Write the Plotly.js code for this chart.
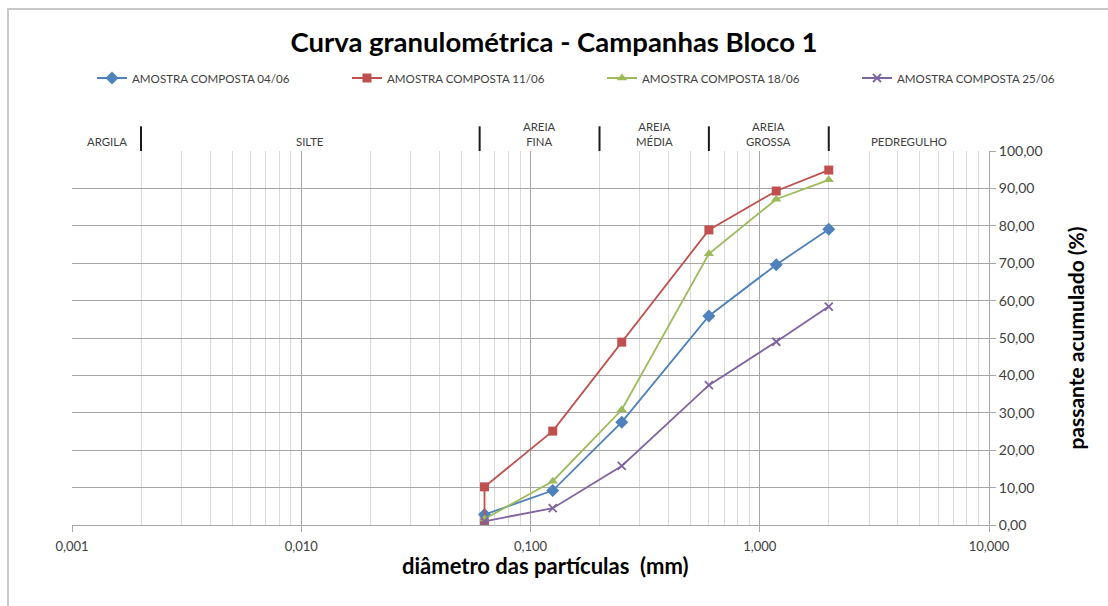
<!DOCTYPE html>
<html>
<head>
<meta charset="utf-8">
<script src="https://cdn.plot.ly/plotly-3.0.1.min.js"></script>
<style>
  html, body { margin: 0; padding: 0; background: #fff; }
  #wrap { position: relative; width: 1108px; height: 606px; }
  #chart { width: 1108px; height: 606px; }
  #frame { position: absolute; left: 7px; top: 8px; width: 1200px; height: 700px;
           border-top: 2px solid #c8c8c8; border-left: 2px solid #c8c8c8; pointer-events: none; }
</style>
</head>
<body>
<div id="wrap">
  <div id="chart"></div>
  <div id="frame"></div>
</div>
<script>
// Sieve openings (mm)
const sieves = [0.063, 0.125, 0.25, 0.6, 1.18, 2.0];

const seriesNames = ["AMOSTRA COMPOSTA 04/06", "AMOSTRA COMPOSTA 11/06",
                     "AMOSTRA COMPOSTA 18/06", "AMOSTRA COMPOSTA 25/06"];

// Cumulative passing (%)
const x0406 = [0.063, 0.125, 0.25, 0.6, 1.18, 2.0];
const y0406 = [2.8, 9.2, 27.5, 55.9, 69.6, 79.1];

const x1106 = [0.063, 0.063, 0.125, 0.25, 0.6, 1.18, 2.0];
const y1106 = [0.4, 10.2, 25.1, 48.9, 78.9, 89.3, 94.9];

const x1806 = [0.063, 0.125, 0.25, 0.6, 1.18, 2.0];
const y1806 = [1.6, 11.7, 30.8, 72.5, 87.1, 92.3];

const x2506 = [0.063, 0.125, 0.25, 0.6, 1.18, 2.0];
const y2506 = [1.0, 4.5, 15.8, 37.4, 49.0, 58.4];

// Particle-size classification (mm)
const zoneLimits = [0.002, 0.06, 0.2, 0.6, 2.0];
const zoneEdges = [0.001, 0.002, 0.06, 0.2, 0.6, 2.0, 10];
const zoneLabels = ["ARGILA", "SILTE", "AREIA<br>FINA", "AREIA<br>MÉDIA", "AREIA<br>GROSSA", "PEDREGULHO"];

// Axis ticks
const xTickVals = [0.001, 0.01, 0.1, 1, 10];
const xTickText = ["0,001", "0,010", "0,100", "1,000", "10,000"];
const yTickVals = [0, 10, 20, 30, 40, 50, 60, 70, 80, 90, 100];

const colors = ["#4F81BD", "#C0504D", "#9BBB59", "#8064A2"];
const symbols = ["diamond", "square", "triangle-up", "x-thin"];
const FONT = "Lato, 'Open Sans', sans-serif";

const xs = [x0406, x1106, x1806, x2506];
const ys = [y0406, y1106, y1806, y2506];
const legendIds = ["legend", "legend2", "legend3", "legend4"];

const traces = seriesNames.map((n, i) => ({
  type: "scatter",
  mode: "lines+markers",
  name: n,
  legend: legendIds[i],
  x: xs[i],
  y: ys[i],
  line: { color: colors[i], width: 1.8 },
  marker: {
    symbol: symbols[i],
    color: colors[i],
    size: symbols[i] === "x-thin" ? 8 : (symbols[i] === "diamond" ? 10 : 9),
    line: { color: colors[i], width: symbols[i] === "x-thin" ? 1.8 : 0 }
  }
}));

const shapes = zoneLimits.map(v => ({
  type: "line", xref: "x", yref: "paper",
  x0: v, x1: v, y0: 1.0, y1: 1.066,
  line: { color: "#1a1a1a", width: 2 }
}));

const annotations = zoneLabels.map((t, i) => ({
  xref: "x", yref: "paper",
  x: (Math.log10(zoneEdges[i]) + Math.log10(zoneEdges[i + 1])) / 2,
  y: 1.0, yanchor: "bottom", yshift: 1,
  text: t, showarrow: false,
  font: { family: FONT, size: 11.4, color: "#404040" }
}));

annotations.push({
  xref: "paper", yref: "paper",
  x: (545 - 72) / 917, xanchor: "center",
  y: -(565 - 525) / 374, yanchor: "middle",
  text: "<b>diâmetro das partículas  (mm)</b>", showarrow: false,
  font: { family: FONT, size: 22, color: "#000" }
});

const layout = {
  width: 1108, height: 606,
  margin: { l: 72, r: 119, t: 151, b: 81 },
  paper_bgcolor: "#fff", plot_bgcolor: "#fff",
  separators: ",.",
  title: {
    text: "<b>Curva granulométrica - Campanhas Bloco 1</b>",
    x: 0.5, xanchor: "center", xref: "container",
    y: 1 - 42 / 606, yanchor: "middle", yref: "container",
    font: { family: FONT, size: 27.5, color: "#000" }
  },
  showlegend: true,
  xaxis: {
    type: "log",
    range: [-3, 1],
    tickvals: xTickVals, ticktext: xTickText,
    ticks: "outside", ticklen: 6, tickcolor: "#a6a6a6",
    ticklabelstandoff: 3,
    showgrid: true, gridcolor: "#a6a6a6", gridwidth: 1,
    minor: { dtick: "D1", showgrid: true, gridcolor: "#d9d9d9", gridwidth: 1, ticks: "" },
    showline: true, linecolor: "#a6a6a6", linewidth: 1,
    zeroline: false,
    tickfont: { family: FONT, size: 13, color: "#404040" }
  },
  yaxis: {
    side: "right",
    range: [0, 100],
    tickvals: yTickVals, tickformat: ".2f",
    ticks: "outside", ticklen: 6, tickcolor: "#a6a6a6",
    showgrid: true, gridcolor: "#a6a6a6", gridwidth: 1,
    showline: true, linecolor: "#a6a6a6", linewidth: 1,
    zeroline: false,
    tickfont: { family: FONT, size: 14, color: "#404040" },
    title: { text: "<b>passante acumulado (%)</b>", standoff: 27,
             font: { family: FONT, size: 21, color: "#000" } }
  },
  shapes: shapes,
  annotations: annotations
};

const legendLeftPx = [92, 347, 602, 857];
legendIds.forEach((id, i) => {
  layout[id] = {
    orientation: "h",
    x: (legendLeftPx[i] - 72) / 917, xanchor: "left",
    y: 1 + (151 - 78) / 374, yanchor: "middle",
    font: { family: FONT, size: 11.6, color: "#404040" },
    itemwidth: 30, bgcolor: "rgba(0,0,0,0)"
  };
});

Plotly.newPlot("chart", traces, layout, { displayModeBar: false, staticPlot: true });
</script>
</body>
</html>
